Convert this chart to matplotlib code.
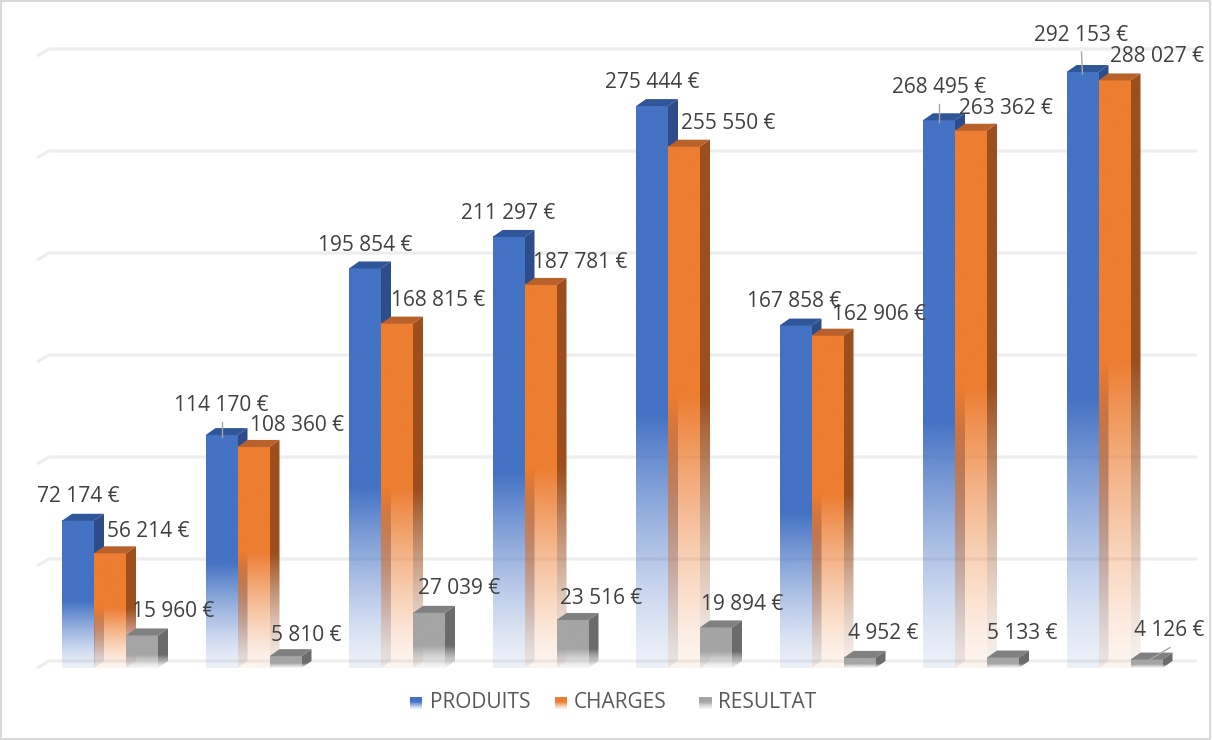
import numpy as np
import matplotlib
matplotlib.use("Agg")
import matplotlib.pyplot as plt
from matplotlib.patches import Polygon, Rectangle
from matplotlib.colors import to_rgb

# values (8 periods, 3 series)
produits = [72174, 114170, 195854, 211297, 275444, 167858, 268495, 292153]
charges = [56214, 108360, 168815, 187781, 255550, 162906, 263362, 288027]
resultat = [15960, 5810, 27039, 23516, 19894, 4952, 5133, 4126]
series_names = ["PRODUITS", "CHARGES", "RESULTAT"]
gridlines = [0, 50000, 100000, 150000, 200000, 250000, 300000]

# styles: front, top, side, fade start (fraction of height), alpha at base
styles = [
    ("#4472C4", "#30569A", "#2C4D8A", 0.45, 0.10),
    ("#ED7D31", "#B8612A", "#9C4E1D", 0.52, 0.08),
    ("#A5A5A5", "#808080", "#6B6B6B", 0.40, 0.10),
]

# label offsets in pixels from the front-top centre of each bar
label_dx = [
    [0, 0, 0, 0, 0, -1, 0, -1],
    [38, 43, 41.5, 39.5, 44, 51, 34.5, 42],
    [31, 20.5, 30, 28.5, 26.5, 23.5, 19.5, 22.5],
]
label_dy = [
    [-24, -30, -22.5, -23, -24, -24.5, -33, -37],
    [-22, -21, -23, -22, -23.5, -21, -22.5, -23.5],
    [-24, -21, -24.5, -21.5, -22.5, -24.5, -24, -29],
]
leaders = [(0, 1), (0, 6), (0, 7), (2, 7)]

# pixel mapping of the figure (axes fill the whole figure)
W, H = 1212, 740
X0_PX, PX_PER_X = 110, 143.5
BASE_PX, PX_PER_V = 668, 0.00204


def to_x(px):
    return (px - X0_PX) / PX_PER_X


def to_y(py):
    return (BASE_PX - py) / PX_PER_V


def dxu(px):
    return px / PX_PER_X


def dyu(px):
    return px / PX_PER_V


def fade_image(color, h_total, h_bar, fade, amin, n=200):
    t = np.linspace(0, h_total, n) / max(h_bar, 1)
    a = amin + (1 - amin) * np.clip(t / fade, 0, 1) ** 1.3
    img = np.zeros((n, 1, 4))
    img[:, 0, :3] = to_rgb(color)
    img[:, 0, 3] = a
    return img


fig = plt.figure(figsize=(W / 100, H / 100), dpi=100)
ax = fig.add_axes([0, 0, 1, 1])
ax.axis("off")

bw = dxu(32)
ddx, ddy = dxu(10), dyu(7)

# back-wall gridlines with the small 3D stub on the left
for g in gridlines:
    ax.plot([to_x(37), to_x(49), to_x(1197)], [g, g + ddy, g + ddy],
            color="#EDEDED", lw=2.2, zorder=1, solid_capstyle="butt")

data = [produits, charges, resultat]
n = len(produits)
for i in range(n):
    for s in range(3):
        v = data[s][i]
        front, top, side, fade, amin = styles[s]
        x0 = i + (s - 1) * bw - bw / 2
        x1 = x0 + bw
        z = 2 + i * 3 + s
        # front face
        ax.imshow(fade_image(front, v, v, fade, amin), extent=[x0, x1, 0, v],
                  origin="lower", aspect="auto", interpolation="bilinear", zorder=z)
        # side face
        side_poly = Polygon([(x1, 0), (x1, v), (x1 + ddx, v + ddy), (x1 + ddx, ddy)],
                            closed=True, transform=ax.transData)
        im = ax.imshow(fade_image(side, v + ddy, v, fade, amin),
                       extent=[x1, x1 + ddx, 0, v + ddy], origin="lower",
                       aspect="auto", interpolation="bilinear", zorder=z)
        im.set_clip_path(side_poly)
        # top face
        ax.add_patch(Polygon([(x0, v), (x1, v), (x1 + ddx, v + ddy), (x0 + ddx, v + ddy)],
                             closed=True, facecolor=top, edgecolor="none", zorder=z))

# data labels
for s in range(3):
    for i in range(n):
        v = data[s][i]
        cx = X0_PX + PX_PER_X * i + (s - 1) * 32
        top_px = BASE_PX - v * PX_PER_V
        lx, ly = cx + label_dx[s][i], top_px + label_dy[s][i]
        txt = f"{v:,}".replace(",", " ") + " €"
        ax.text(to_x(lx), to_y(ly), txt, ha="center", va="center",
                fontsize=15, color="#404040", family="Open Sans", zorder=50)
        if (s, i) in leaders:
            ax.plot([to_x(lx + 1 if s else lx), to_x(cx)], [to_y(ly + 17), to_y(top_px + 2)],
                    color="#A6A6A6", lw=1, zorder=49)

# legend
legend_px = [(410, 430), (555, 574), (699, 718)]
for s, (mx, tx) in enumerate(legend_px):
    front, _, _, _, _ = styles[s]
    ax.imshow(fade_image(front, 12, 12, 0.6, 0.1), extent=[to_x(mx), to_x(mx + 12), to_y(709), to_y(697)],
              origin="lower", aspect="auto", interpolation="bilinear", zorder=50)
    ax.text(to_x(tx), to_y(703), series_names[s], ha="left", va="center",
            fontsize=15, color="#595959", family="Open Sans", zorder=50)

ax.set_xlim(to_x(0), to_x(W))
ax.set_ylim(to_y(H), to_y(0))

fig.patches.append(Rectangle((0.001, 0.001), 0.997, 0.997, transform=fig.transFigure,
                             fill=False, edgecolor="#D9D9D9", lw=1.5))

fig.savefig("out.png", dpi=100)
